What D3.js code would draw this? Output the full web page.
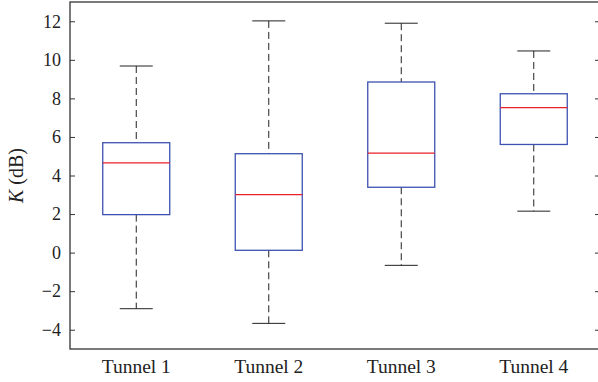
<!DOCTYPE html>
<html lang="en">
<head>
<meta charset="UTF-8">
<title>K (dB) boxplot</title>
<script src="https://d3js.org/d3.v7.min.js"></script>
<style>
  body { margin: 0; background: #fff; }
  text { font-family: "Liberation Serif", "DejaVu Serif", serif; fill: #222; }
</style>
</head>
<body>
<div id="chart"></div>
<script>
// box statistics
var tunnels = ["Tunnel 1", "Tunnel 2", "Tunnel 3", "Tunnel 4"];
var lowerWhisker = [-2.91, -3.67, -0.66, 2.15];
var q1 = [1.97, 0.12, 3.39, 5.61];
var median = [4.66, 3.01, 5.16, 7.52];
var q3 = [5.70, 5.13, 8.85, 8.24];
var upperWhisker = [9.68, 12.02, 11.90, 10.46];
var yTicks = [-4, -2, 0, 2, 4, 6, 8, 10, 12];

var width = 598, height = 382;
var margin = {top: 2, right: -2, bottom: 33, left: 70};

var svg = d3.select("#chart").append("svg")
  .attr("width", width)
  .attr("height", height);

var x = d3.scaleBand()
  .domain(tunnels)
  .range([margin.left, width - margin.right]);

var y = d3.scaleLinear()
  .domain([-5, 13])
  .range([height - margin.bottom, margin.top]);

var boxW = 67, capW = 33;

var data = tunnels.map(function(t, i) {
  return {name: t, lo: lowerWhisker[i], q1: q1[i], med: median[i], q3: q3[i], hi: upperWhisker[i]};
});

var g = svg.selectAll("g.box").data(data).enter().append("g")
  .attr("transform", function(d) { return "translate(" + (x(d.name) + x.bandwidth() / 2) + ",0)"; });

// dashed whiskers
g.append("line")
  .attr("x1", 0).attr("x2", 0)
  .attr("y1", function(d) { return y(d.hi); })
  .attr("y2", function(d) { return y(d.q3); })
  .attr("stroke", "#222").attr("stroke-dasharray", "7,4");
g.append("line")
  .attr("x1", 0).attr("x2", 0)
  .attr("y1", function(d) { return y(d.q1); })
  .attr("y2", function(d) { return y(d.lo); })
  .attr("stroke", "#222").attr("stroke-dasharray", "7,4");

// caps
g.append("line")
  .attr("x1", -capW / 2).attr("x2", capW / 2)
  .attr("y1", function(d) { return y(d.hi); })
  .attr("y2", function(d) { return y(d.hi); })
  .attr("stroke", "#222");
g.append("line")
  .attr("x1", -capW / 2).attr("x2", capW / 2)
  .attr("y1", function(d) { return y(d.lo); })
  .attr("y2", function(d) { return y(d.lo); })
  .attr("stroke", "#222");

// box
g.append("rect")
  .attr("x", -boxW / 2)
  .attr("width", boxW)
  .attr("y", function(d) { return y(d.q3); })
  .attr("height", function(d) { return y(d.q1) - y(d.q3); })
  .attr("fill", "none")
  .attr("stroke", "#3d52b0")
  .attr("stroke-width", 1.3);

// median
g.append("line")
  .attr("x1", -boxW / 2).attr("x2", boxW / 2)
  .attr("y1", function(d) { return y(d.med); })
  .attr("y2", function(d) { return y(d.med); })
  .attr("stroke", "#e8202a")
  .attr("stroke-width", 1.2);

// axes
var yAxis = d3.axisLeft(y).tickValues(yTicks).tickSizeInner(-5).tickSizeOuter(0).tickPadding(9);
var yl = svg.append("g")
  .attr("transform", "translate(" + margin.left + ",0)")
  .call(yAxis);
yl.select(".domain").remove();
yl.selectAll("text").style("font-size", "18px").attr("fill", "#222");
yl.selectAll("line").attr("stroke", "#333");

var yr = svg.append("g")
  .attr("transform", "translate(" + (width - margin.right) + ",0)")
  .call(d3.axisRight(y).tickValues(yTicks).tickSizeInner(-5).tickSizeOuter(0).tickFormat(""));
yr.select(".domain").remove();
yr.selectAll("line").attr("stroke", "#333");

var xa = svg.append("g")
  .attr("transform", "translate(0," + (height - margin.bottom) + ")")
  .call(d3.axisBottom(x).tickSize(0).tickPadding(10));
xa.select(".domain").remove();
xa.selectAll("text").style("font-size", "19.5px").attr("fill", "#222");

// frame
svg.append("rect")
  .attr("x", margin.left)
  .attr("y", margin.top)
  .attr("width", width - margin.right - margin.left)
  .attr("height", height - margin.bottom - margin.top)
  .attr("fill", "none")
  .attr("stroke", "#333")
  .attr("stroke-width", 1.3);

// y label
var lab = svg.append("text")
  .attr("transform", "translate(23," + y(4) + ") rotate(-90)")
  .attr("text-anchor", "middle")
  .style("font-size", "20px");
lab.append("tspan").attr("font-style", "italic").text("K");
lab.append("tspan").text(" (dB)");
</script>
</body>
</html>
